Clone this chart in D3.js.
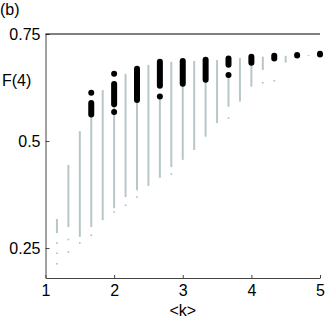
<!DOCTYPE html>
<html>
<meta charset="utf-8">
<style>
body { margin: 0; background: #fff; }
text { font-family: 'Liberation Sans', Arial, sans-serif; font-size: 16px; fill: #000; }
</style>
<body>
<svg width="327" height="327"></svg>
<script src="https://d3js.org/d3.v7.min.js"></script>
<script>

// gray ranges (one per <k> step of 1/6)
var grayK   = [7/6, 8/6, 9/6, 10/6, 11/6, 12/6, 13/6, 14/6, 15/6, 16/6, 17/6, 18/6, 19/6, 20/6, 21/6, 22/6, 23/6, 24/6, 25/6, 27/6, 29/6];
var grayTop = [0.318, 0.444, 0.523, 0.560, 0.619, 0.586, 0.657, 0.600, 0.678, 0.604, 0.685, 0.634, 0.687, 0.643, 0.689, 0.654, 0.694, 0.683, 0.697, 0.699, 0.701];
var grayBot = [0.285, 0.299, 0.276, 0.299, 0.315, 0.343, 0.369, 0.385, 0.395, 0.414, 0.439, 0.456, 0.479, 0.510, 0.542, 0.580, 0.592, 0.627, 0.666, 0.683, 0.699];

// scattered gray points below the ranges
var tailK = [7/6, 7/6, 7/6, 8/6, 8/6, 9/6, 10/6, 12/6, 13/6, 14/6, 17/6, 22/6, 25/6, 26/6];
var tailV = [0.262, 0.238, 0.213, 0.270, 0.241, 0.262, 0.280, 0.334, 0.350, 0.369, 0.423, 0.554, 0.636, 0.641];

// black clusters of dots
var blackK  = [10/6, 12/6, 14/6, 16/6, 18/6, 20/6, 22/6, 24/6, 26/6, 28/6, 30/6];
var blackHi = [0.589, 0.633, 0.669, 0.685, 0.687, 0.690, 0.693, 0.697, 0.699, 0.701, 0.704];
var blackLo = [0.562, 0.586, 0.596, 0.629, 0.634, 0.643, 0.678, 0.683, 0.693, 0.700, 0.702];

// isolated black dots
var dotK = [10/6, 12/6, 12/6, 16/6, 22/6];
var dotV = [0.613, 0.657, 0.568, 0.604, 0.654];

var xTicks = [1, 2, 3, 4, 5];
var yTicks = [0.25, 0.5, 0.75];

var svg = d3.select("svg");

var x = d3.scaleLinear().domain([1, 5]).range([45.5, 320]),
    y = d3.scaleLinear().domain([0.18, 0.75]).range([278, 34]);

// gray vertical ranges
svg.selectAll(".gray")
    .data(grayK)
  .enter().append("line")
    .attr("class", "gray")
    .attr("x1", function(d) { return x(d); })
    .attr("x2", function(d) { return x(d); })
    .attr("y1", function(d, i) { return y(grayTop[i]); })
    .attr("y2", function(d, i) { return y(grayBot[i]); })
    .attr("stroke", "#b7c7c9")
    .attr("stroke-width", 2);

svg.selectAll(".tail")
    .data(tailK)
  .enter().append("circle")
    .attr("class", "tail")
    .attr("cx", function(d) { return x(d); })
    .attr("cy", function(d, i) { return y(tailV[i]); })
    .attr("r", 1)
    .attr("fill", "#b7c7c9");

// black clusters drawn as fat round-capped strokes
svg.selectAll(".black")
    .data(blackK)
  .enter().append("line")
    .attr("class", "black")
    .attr("x1", function(d) { return x(d); })
    .attr("x2", function(d) { return x(d); })
    .attr("y1", function(d, i) { return y(blackHi[i]); })
    .attr("y2", function(d, i) { return y(blackLo[i]); })
    .attr("stroke", "#000")
    .attr("stroke-width", 6)
    .attr("stroke-linecap", "round");

svg.selectAll(".dot")
    .data(dotK)
  .enter().append("circle")
    .attr("class", "dot")
    .attr("cx", function(d) { return x(d); })
    .attr("cy", function(d, i) { return y(dotV[i]); })
    .attr("r", 3)
    .attr("fill", "#000");

// axes
var xAxis = d3.axisBottom(x).tickValues(xTicks).tickSizeInner(-3).tickSizeOuter(0).tickPadding(7).tickFormat(d3.format("d"));
var yAxis = d3.axisLeft(y).tickValues(yTicks).tickSizeInner(-4).tickSizeOuter(0).tickPadding(5).tickFormat(function(d) { return String(d); });

var gx = svg.append("g")
    .attr("transform", "translate(0," + y(0.18) + ")")
    .call(xAxis);
var gy = svg.append("g")
    .attr("transform", "translate(" + x(1) + ",0)")
    .call(yAxis);

svg.selectAll(".domain").attr("stroke", "#444");
svg.selectAll(".tick line").attr("stroke", "#444");
svg.selectAll(".tick text").style("font-size", "16px").attr("fill", "#000").style("font-family", "'Liberation Sans', Arial, sans-serif");

// top border line
svg.append("line")
    .attr("x1", x(1)).attr("x2", x(5))
    .attr("y1", y(0.75)).attr("y2", y(0.75))
    .attr("stroke", "#000")
    .attr("stroke-width", 1.2);

// labels
svg.append("text").attr("x", 0).attr("y", 15).text("(b)");
svg.append("text").attr("x", 2).attr("y", 86).text("F(4)");
svg.append("text")
    .attr("x", (x(2.5) + x(3.5)) / 2 - 0)
    .attr("y", 316)
    .attr("text-anchor", "middle")
    .text("<k>");

</script>
</body>
</html>
